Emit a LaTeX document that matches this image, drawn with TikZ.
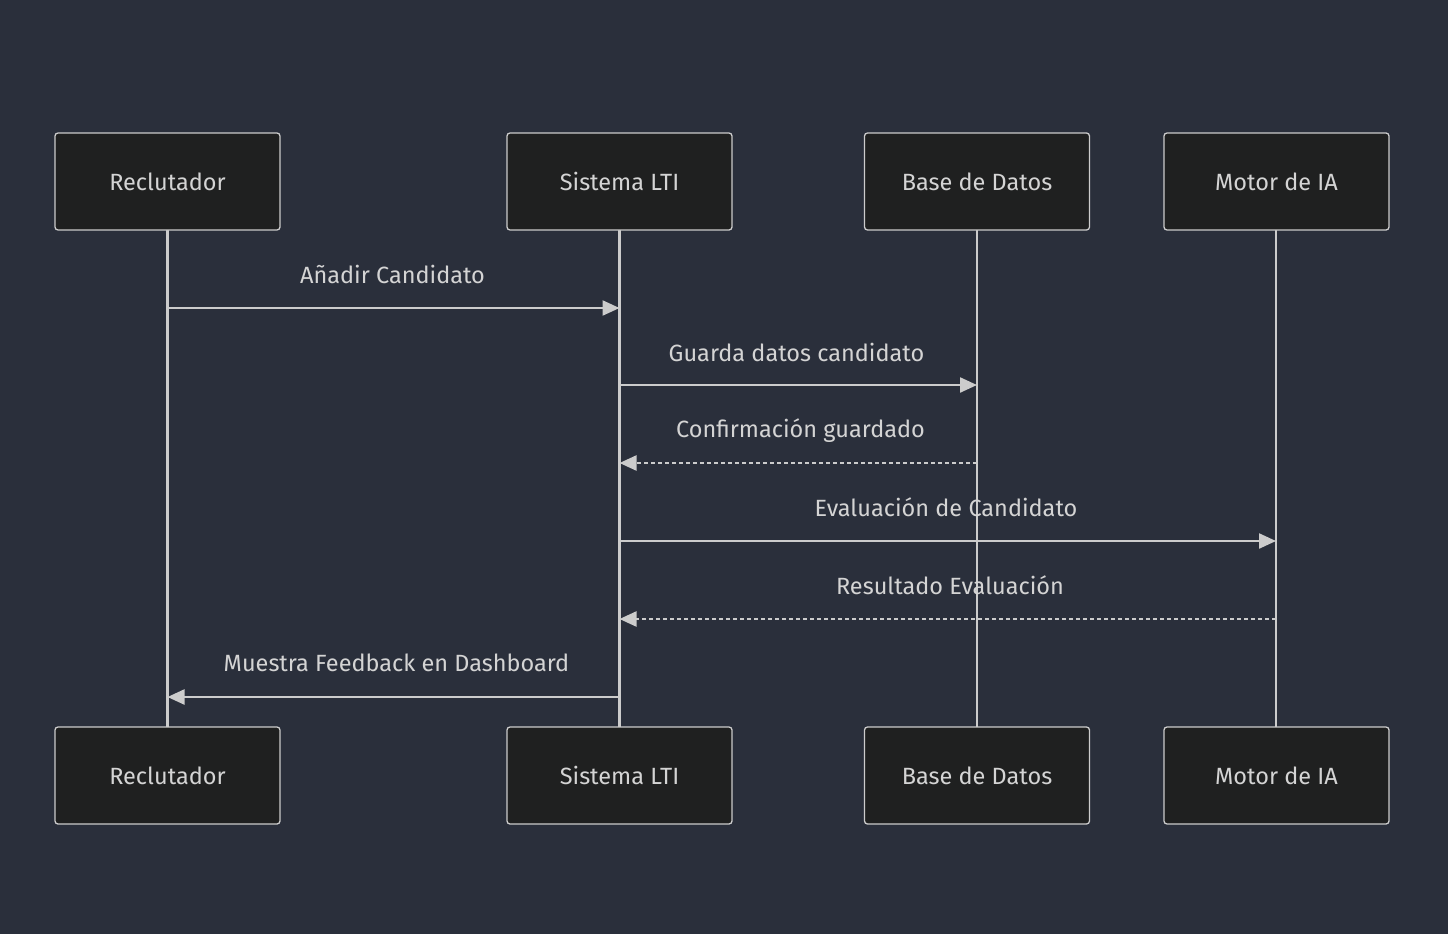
\documentclass[tikz,border=0pt]{standalone}
\usepackage{fontspec}
\setmainfont{Fira Sans}
\usetikzlibrary{arrows.meta}
\definecolor{bg}{HTML}{2A2F3B}
\definecolor{boxfill}{HTML}{1F2020}
\definecolor{fg}{HTML}{CCCCCC}
\definecolor{txt}{HTML}{D4D4D4}
\tikzset{
  actor/.style={draw=fg, fill=boxfill, line width=1.3pt, rounded corners=3pt, minimum width=225pt, minimum height=97pt, text=txt, font=\fontsize{23.5}{28}\selectfont, inner sep=0pt},
  life/.style={draw=fg, line width=2.3pt},
  msg/.style={draw=fg, line width=2.3pt, -{Triangle[length=17pt,width=15pt]}},
  reply/.style={msg, dash pattern=on 4pt off 3pt},
  lbl/.style={text=txt, font=\fontsize{23.5}{28}\selectfont, inner sep=0pt}
}
\begin{document}
\begin{tikzpicture}[x=1pt,y=-1pt]
\fill[bg] (0,0) rectangle (1448,934);
\useasboundingbox (0,0) rectangle (1448,934);
% lifelines
\coordinate (rT) at (167.5,230); \coordinate (rB) at (167.5,727);
\coordinate (sT) at (619.5,230); \coordinate (sB) at (619.5,727);
\coordinate (bT) at (977,230); \coordinate (bB) at (977,727);
\coordinate (mT) at (1276,230); \coordinate (mB) at (1276,727);
\draw[life] (rT) -- (rB);
\draw[life] (sT) -- (sB);
\draw[life] (bT) -- (bB);
\draw[life] (mT) -- (mB);
% actors
\node[actor] (r1) at (167.5,181.5) {Reclutador};
\node[actor] (s1) at (619.5,181.5) {Sistema LTI};
\node[actor] (b1) at (977,181.5) {Base de Datos};
\node[actor] (m1) at (1276.5,181.5) {Motor de IA};
\node[actor] (r2) at (167.5,775.5) {Reclutador};
\node[actor] (s2) at (619.5,775.5) {Sistema LTI};
\node[actor] (b2) at (977,775.5) {Base de Datos};
\node[actor] (m2) at (1276.5,775.5) {Motor de IA};
% message endpoints
\coordinate (a1) at (167.5,308); \coordinate (a2) at (619.5,308);
\coordinate (b1s) at (619.5,385); \coordinate (b2s) at (977,385);
\coordinate (c1) at (977,463); \coordinate (c2) at (619.5,463);
\coordinate (d1) at (619.5,541); \coordinate (d2) at (1276,541);
\coordinate (e1) at (1276,619); \coordinate (e2) at (619.5,619);
\coordinate (f1) at (619.5,697); \coordinate (f2) at (167.5,697);
\draw[msg] (a1) -- (a2);
\draw[msg] (b1s) -- (b2s);
\draw[reply] (c1) -- (c2);
\draw[msg] (d1) -- (d2);
\draw[reply] (e1) -- (e2);
\draw[msg] (f1) -- (f2);
\node[lbl] (l1) at (392.5,274) {Añadir Candidato};
\node[lbl] (l2) at (796.5,352) {Guarda datos candidato};
\node[lbl] (l3) at (800.5,431) {Confirmación guardado};
\node[lbl] (l4) at (946,507) {Evaluación de Candidato};
\node[lbl] (l5) at (950,585) {Resultado Evaluación};
\node[lbl] (l6) at (396.5,663) {Muestra Feedback en Dashboard};
\end{tikzpicture}
\end{document}
